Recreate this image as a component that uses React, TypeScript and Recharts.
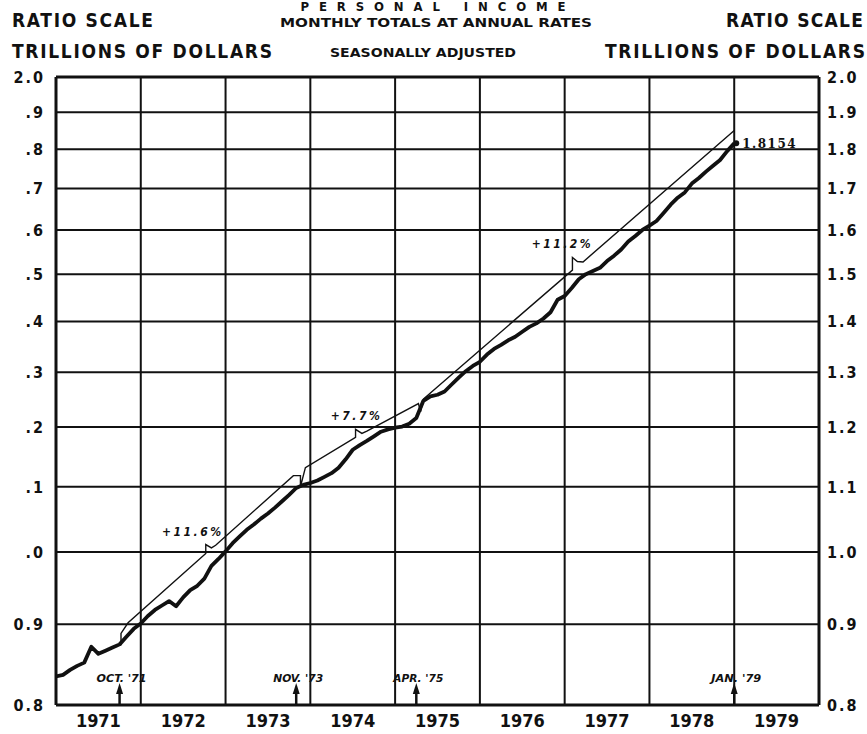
import React from "react";
import {
  ComposedChart,
  Line,
  XAxis,
  YAxis,
  CartesianGrid,
  ReferenceLine,
  ReferenceDot,
} from "recharts";

// months are counted from Jan 1971 (0) ; domain runs to Jan 1980 (108)
const YEARS = [1971, 1972, 1973, 1974, 1975, 1976, 1977, 1978, 1979];
const YEAR_STARTS = [12, 24, 36, 48, 60, 72, 84, 96];

const Y_TICKS = [0.8, 0.9, 1.0, 1.1, 1.2, 1.3, 1.4, 1.5, 1.6, 1.7, 1.8, 1.9, 2.0];
const LEFT_LABELS = ["0.8", "0.9", ".0", ".1", ".2", ".3", ".4", ".5", ".6", ".7", ".8", ".9", "2.0"];
const RIGHT_LABELS = ["0.8", "0.9", "1.0", "1.1", "1.2", "1.3", "1.4", "1.5", "1.6", "1.7", "1.8", "1.9", "2.0"];

// personal income, trillions of dollars, Jan 1971 .. Jan 1979
const INCOME = [
  0.834, 0.836, 0.842, 0.847, 0.851, 0.871, 0.862, 0.866, 0.87, 0.874, 0.884, 0.894,
  0.901, 0.911, 0.919, 0.925, 0.931, 0.924, 0.936, 0.946, 0.952, 0.962, 0.98, 0.99,
  1.001, 1.013, 1.023, 1.033, 1.041, 1.05, 1.058, 1.067, 1.077, 1.087, 1.098, 1.103,
  1.106, 1.11, 1.116, 1.122, 1.131, 1.145, 1.161, 1.169, 1.176, 1.184, 1.192, 1.196,
  1.199, 1.201, 1.206, 1.216, 1.247, 1.255, 1.258, 1.264, 1.277, 1.29, 1.302, 1.312,
  1.32, 1.334, 1.345, 1.353, 1.362, 1.369, 1.379, 1.389, 1.396, 1.406, 1.419, 1.445,
  1.453, 1.47, 1.489, 1.5, 1.507, 1.514, 1.529, 1.541, 1.555, 1.573, 1.586, 1.6,
  1.61, 1.621, 1.64, 1.66, 1.677, 1.69, 1.712, 1.726, 1.742, 1.757, 1.772, 1.795,
  1.8154,
];

// thin growth-rate line (month, value), incl. its jogs and label pointers
const TREND_M = [9.2, 9.2, 10.2, 21.2, 21.2, 22.0, 22.6, 33.6, 34.6, 34.6, 35.3, 42.4, 42.4, 43.3, 44.0, 51.3, 51.6, 52.0, 53.4, 73.1, 73.1, 73.8, 74.6, 96];
const TREND_V = [0.873, 0.888, 0.902, 0.998, 1.011, 1.006, 1.01, 1.118, 1.118, 1.1, 1.131, 1.182, 1.196, 1.189, 1.193, 1.242, 1.227, 1.25, 1.266, 1.509, 1.537, 1.528, 1.527, 1.85];

const EVENT_M = [9, 34, 51, 96];
const EVENT_LABELS = ["OCT. '71", "NOV. '73", "APR. '75", "JAN. '79"];

const RATE_M = [21.2, 42.4, 73.1];
const RATE_V = [1.011, 1.196, 1.537];
const RATE_LABELS = ["+11.6%", "+7.7%", "+11.2%"];
const RATE_DX = [-13, 1, -10];

const FONT = "'DejaVu Sans Condensed', 'DejaVu Sans', sans-serif";
const INK = "#111";

const incomeData = INCOME.map((v, i) => ({ m: i, v }));
const trendData = TREND_M.map((m, i) => ({ m, v: TREND_V[i] }));
const yearMids = YEARS.map((_, i) => i * 12 + 6);

const labelFor = (labels: string[], value: number) => {
  const i = Y_TICKS.findIndex((t) => Math.abs(t - value) < 1e-6);
  return i >= 0 ? labels[i] : "";
};

const LeftTick = (props: any) => {
  const { x, y, payload } = props;
  return (
    <text x={x - 11} y={y} dy="0.36em" textAnchor="end" fill={INK} fontFamily={FONT} fontWeight="bold" fontSize={16} letterSpacing={2}>
      {labelFor(LEFT_LABELS, payload.value)}
    </text>
  );
};

const RightTick = (props: any) => {
  const { x, y, payload } = props;
  return (
    <text x={x + 8} y={y} dy="0.36em" textAnchor="start" fill={INK} fontFamily={FONT} fontWeight="bold" fontSize={16} letterSpacing={2}>
      {labelFor(RIGHT_LABELS, payload.value)}
    </text>
  );
};

const YearTick = (props: any) => {
  const { x, y, payload } = props;
  const year = YEARS[Math.round((payload.value - 6) / 12)];
  return (
    <text x={x} y={y + 22} textAnchor="middle" fill={INK} fontFamily={FONT} fontWeight="bold" fontSize={18} textLength={45} lengthAdjust="spacing">
      {year}
    </text>
  );
};

const EventArrow = ({ cx, cy, label }: { cx: number; cy: number; label: string }) => (
  <g>
    <line x1={cx} y1={cy} x2={cx} y2={cy - 12} stroke={INK} strokeWidth={2.5} />
    <path d={`M${cx - 3.5},${cy - 11} L${cx},${cy - 22} L${cx + 3.5},${cy - 11} Z`} fill={INK} />
    <text x={cx + 2} y={cy - 23} textAnchor="middle" fill={INK} fontFamily={FONT} fontWeight="bold" fontStyle="italic" fontSize={11} textLength={50} lengthAdjust="spacingAndGlyphs">
      {label}
    </text>
  </g>
);

const RateNote = ({ cx, cy, label, dx }: { cx: number; cy: number; label: string; dx: number }) => (
  <text x={cx + dx} y={cy - 9} textAnchor="middle" fill={INK} fontFamily={FONT} fontWeight="bold" fontStyle="italic" fontSize={12} letterSpacing={2.5}>
    {label}
  </text>
);

const EndNote = ({ cx, cy }: { cx: number; cy: number }) => (
  <g>
    <circle cx={cx + 2} cy={cy} r={3} fill={INK} />
    <text x={cx + 8} y={cy + 5} fill={INK} fontFamily="'DejaVu Serif', serif" fontWeight="bold" fontSize={12} letterSpacing={1.5}>
      1.8154
    </text>
  </g>
);

const headText = { fill: INK, fontFamily: FONT, fontWeight: "bold" as const };

export default function App() {
  return (
    <div style={{ position: "absolute", left: 0, top: 0, width: 867, height: 734, background: "#fff" }}>
      <ComposedChart width={867} height={734} margin={{ top: 77, right: 4, bottom: 4, left: 6 }}>
        <CartesianGrid vertical={false} stroke={INK} strokeWidth={2} />
        <XAxis
          dataKey="m"
          type="number"
          domain={[0, 108]}
          ticks={yearMids}
          allowDataOverflow
          axisLine={false}
          tickLine={false}
          tickSize={0}
          tickMargin={0}
          height={25}
          tick={<YearTick />}
        />
        <YAxis
          type="number"
          scale="log"
          domain={[0.8, 2.0]}
          ticks={Y_TICKS}
          allowDataOverflow
          width={50}
          tickLine={false}
          tickSize={0}
          tickMargin={0}
          axisLine={{ stroke: INK, strokeWidth: 3 }}
          tick={<LeftTick />}
        />
        <YAxis
          yAxisId="right"
          orientation="right"
          type="number"
          scale="log"
          domain={[0.8, 2.0]}
          ticks={Y_TICKS}
          allowDataOverflow
          width={44}
          tickLine={false}
          tickSize={0}
          tickMargin={0}
          axisLine={{ stroke: INK, strokeWidth: 3 }}
          tick={<RightTick />}
        />
        {YEAR_STARTS.map((m) => (
          <ReferenceLine key={m} x={m} stroke={INK} strokeWidth={2} />
        ))}
        <ReferenceLine y={2.0} stroke={INK} strokeWidth={3} />
        <ReferenceLine y={0.8} stroke={INK} strokeWidth={3} />
        <Line
          data={trendData}
          dataKey="v"
          type="linear"
          stroke={INK}
          strokeWidth={1.4}
          dot={false}
          isAnimationActive={false}
        />
        <Line
          data={incomeData}
          dataKey="v"
          type="linear"
          stroke={INK}
          strokeWidth={3.8}
          strokeLinejoin="round"
          dot={false}
          isAnimationActive={false}
        />
        {EVENT_M.map((m, i) => (
          <ReferenceDot
            key={"e" + m}
            x={m}
            y={0.8}
            r={0}
            shape={(p: any) => <EventArrow cx={p.cx} cy={p.cy} label={EVENT_LABELS[i]} />}
          />
        ))}
        {RATE_M.map((m, i) => (
          <ReferenceDot
            key={"r" + m}
            x={m}
            y={RATE_V[i]}
            r={0}
            shape={(p: any) => <RateNote cx={p.cx} cy={p.cy} label={RATE_LABELS[i]} dx={RATE_DX[i]} />}
          />
        ))}
        <ReferenceDot
          x={96}
          y={INCOME[INCOME.length - 1]}
          r={0}
          shape={(p: any) => <EndNote cx={p.cx} cy={p.cy} />}
        />
      </ComposedChart>
      <svg width={867} height={734} style={{ position: "absolute", left: 0, top: 0, pointerEvents: "none" }}>
        <text x={433} y={11} textAnchor="middle" fontSize={13} textLength={265} lengthAdjust="spacing" {...headText}>
          PERSONAL INCOME
        </text>
        <text x={12} y={27} fontSize={19} textLength={141} lengthAdjust="spacing" {...headText}>
          RATIO SCALE
        </text>
        <text x={280} y={27} fontSize={13} textLength={312} lengthAdjust="spacingAndGlyphs" {...headText}>
          MONTHLY TOTALS AT ANNUAL RATES
        </text>
        <text x={726} y={27} fontSize={19} textLength={137} lengthAdjust="spacing" {...headText}>
          RATIO SCALE
        </text>
        <text x={12} y={58} fontSize={19} textLength={260} lengthAdjust="spacing" {...headText}>
          TRILLIONS OF DOLLARS
        </text>
        <text x={330} y={57} fontSize={13} textLength={186} lengthAdjust="spacingAndGlyphs" {...headText}>
          SEASONALLY ADJUSTED
        </text>
        <text x={605} y={58} fontSize={19} textLength={260} lengthAdjust="spacing" {...headText}>
          TRILLIONS OF DOLLARS
        </text>
      </svg>
    </div>
  );
}
